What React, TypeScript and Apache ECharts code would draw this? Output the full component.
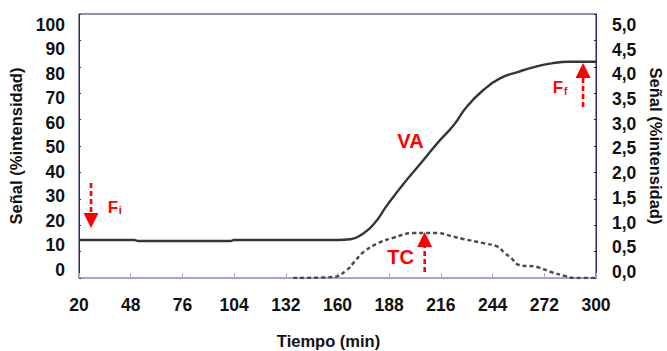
import React, { useEffect, useRef } from "react";
import * as echarts from "echarts";

// ---- data ----
const timeTicks = [20, 48, 76, 104, 132, 160, 188, 216, 244, 272, 300];
const leftTicks = [0, 10, 20, 30, 40, 50, 60, 70, 80, 90, 100];
const rightTicks = [0, 0.5, 1, 1.5, 2, 2.5, 3, 3.5, 4, 4.5, 5];

// VA curve (left axis, %)
const vaTime = [20, 50, 52, 102, 104, 160, 167, 174, 180, 187, 196, 205, 214, 223, 230, 239, 248, 258, 267, 276, 285, 300];
const vaSignal = [14.4, 14.4, 14.0, 14.0, 14.4, 14.4, 14.7, 16.9, 20.7, 27.7, 35.9, 43.4, 51.0, 58.0, 64.9, 71.2, 75.6, 78.1, 80.0, 81.3, 81.9, 81.9];

// TC curve (right axis, %)
const tcTime = [136, 158, 165, 169, 174, 182, 190, 201, 214, 223, 228, 239, 247, 250, 254, 258, 268, 276, 283, 288, 300];
const tcSignal = [0, 0.02, 0.15, 0.3, 0.49, 0.66, 0.76, 0.85, 0.85, 0.78, 0.74, 0.66, 0.59, 0.49, 0.38, 0.25, 0.21, 0.11, 0.04, 0, 0];

// annotations (data coordinates on the left axis)
const arrows = [
  { x: 26.5, from: 36.0, base: 24.6, tip: 18.9 }, // Fi (down)
  { x: 293, from: 64.8, base: 75.8, tip: 81.4 }, // Ff (up)
  { x: 207.2, from: 2.3, base: 11.7, tip: 17.4 }, // TC (up)
];
const labels = [
  { text: "VA", x: 199.5, y: 52.0, size: 20 },
  { text: "TC", x: 194.2, y: 7.8, size: 20 },
  { text: "F", x: 38.4, y: 26.7, size: 17 },
  { text: "i", x: 42.4, y: 25.6, size: 11 },
  { text: "F", x: 279.4, y: 72.2, size: 17 },
  { text: "f", x: 283.6, y: 70.8, size: 10 },
];

const FONT = "'Liberation Sans Narrow', 'Arial Narrow', 'Liberation Sans', Arial, sans-serif";
const NAVY = "#2a2a62";
const LAV = "#a8a8e8";
const RED = "#ff0000";

export default function App() {
  const ref = useRef<HTMLDivElement>(null);
  useEffect(() => {
    if (!ref.current) return;
    const chart = echarts.init(ref.current, undefined, { renderer: "svg" });
    const labelStyle = { color: "#111", fontFamily: FONT, fontWeight: "bold" as const, fontSize: 17.5 };
    const nameStyle = { color: "#111", fontFamily: FONT, fontWeight: "bold" as const, fontSize: 16.5 };
    chart.setOption({
      animation: false,
      backgroundColor: "#fff",
      grid: {
        left: 79,
        right: 71,
        top: 14,
        bottom: 73,
        show: true,
        borderColor: NAVY,
        borderWidth: 1,
        containLabel: false,
        outerBoundsMode: "none",
      },
      xAxis: {
        type: "value",
        min: 20,
        max: 300,
        axisLine: { show: true, lineStyle: { color: LAV, width: 1.5 } },
        axisTick: { show: true, inside: true, length: 5, lineStyle: { color: LAV }, customValues: timeTicks },
        axisLabel: { ...labelStyle, margin: 18, customValues: timeTicks },
        splitLine: { show: false },
        name: "Tiempo (min)",
        nameLocation: "middle",
        nameGap: 54,
        nameTextStyle: { ...nameStyle, padding: [0, 18, 0, 0] },
      },
      yAxis: [
        {
          type: "value",
          position: "left",
          min: 0,
          max: 100,
          interval: 10,
          axisLine: { show: true, lineStyle: { color: NAVY } },
          axisTick: { show: true, inside: true, length: 2, lineStyle: { color: NAVY } },
          axisLabel: { show: false },
          splitLine: { show: false },
        },
        {
          type: "value",
          position: "left",
          min: -3.26,
          max: 104.28,
          axisLine: { show: false },
          axisTick: { show: false },
          axisLabel: { ...labelStyle, margin: 14, customValues: leftTicks },
          splitLine: { show: false },
          name: "Señal (%intensidad)",
          nameLocation: "middle",
          nameGap: 52,
          nameRotate: 90,
          nameTextStyle: nameStyle,
        },
        {
          type: "value",
          position: "right",
          min: 0,
          max: 5,
          interval: 0.5,
          axisLine: { show: true, lineStyle: { color: NAVY } },
          axisTick: { show: true, inside: true, length: 2, lineStyle: { color: NAVY } },
          axisLabel: { show: false },
          splitLine: { show: false },
        },
        {
          type: "value",
          position: "right",
          min: -0.12,
          max: 5.22,
          axisLine: { show: false },
          axisTick: { show: false },
          axisLabel: {
            ...labelStyle,
            margin: 16,
            customValues: rightTicks,
            formatter: (v: number) => v.toFixed(1).replace(".", ","),
          },
          splitLine: { show: false },
          name: "Señal (%intensidad)",
          nameLocation: "middle",
          nameGap: 51,
          nameRotate: -90,
          nameTextStyle: nameStyle,
        },
      ],
      series: [
        {
          name: "VA",
          type: "line",
          xAxisIndex: 0,
          yAxisIndex: 0,
          data: vaTime.map((t, i) => [t, vaSignal[i]]),
          showSymbol: false,
          smooth: 0.5,
          lineStyle: { color: "#363636", width: 2.4 },
          z: 3,
        },
        {
          name: "TC",
          type: "line",
          xAxisIndex: 0,
          yAxisIndex: 2,
          data: tcTime.map((t, i) => [t, tcSignal[i]]),
          showSymbol: false,
          smooth: 0.4,
          lineStyle: { color: "#4a4a4a", width: 2.5, type: [4, 3] },
          z: 3,
        },
      ],
    });

    const P = (x: number, y: number) => chart.convertToPixel({ xAxisIndex: 0, yAxisIndex: 0 }, [x, y]) as number[];
    const graphics: any[] = [];
    arrows.forEach((a) => {
      const p1 = P(a.x, a.from);
      const pb = P(a.x, a.base);
      const pt = P(a.x, a.tip);
      graphics.push({
        type: "line",
        shape: { x1: p1[0], y1: p1[1], x2: pb[0], y2: pb[1] },
        style: { stroke: RED, lineWidth: 2.6, lineDash: [5, 3] },
        z: 10,
      });
      graphics.push({
        type: "polygon",
        shape: { points: [[pb[0] - 7.5, pb[1]], [pb[0] + 7.5, pb[1]], [pt[0], pt[1]]] },
        style: { fill: RED },
        z: 10,
      });
    });
    labels.forEach((l) => {
      const p = P(l.x, l.y);
      graphics.push({
        type: "text",
        x: p[0],
        y: p[1],
        style: {
          text: l.text,
          fill: RED,
          font: `bold ${l.size}px ${FONT}`,
          align: "center",
          verticalAlign: "middle",
        },
        z: 10,
      });
    });
    chart.setOption({ graphic: graphics });

    return () => chart.dispose();
  }, []);
  return <div ref={ref} style={{ position: "fixed", left: 0, top: 0, width: 667, height: 351, background: "#fff" }} />;
}
